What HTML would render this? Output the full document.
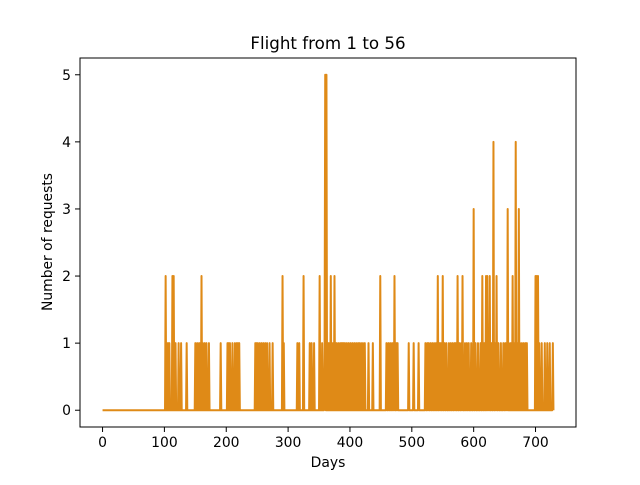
<!DOCTYPE html>
<html><head><meta charset="utf-8"><style>
body{margin:0;background:#fff;}
svg text{font-family:"DejaVu Sans","Liberation Sans",sans-serif;fill:#000;}
</style></head><body>
<svg width="640" height="480" viewBox="0 0 640 480">
<rect width="640" height="480" fill="#fff"/>
<text x="328" y="49" font-size="16.7" text-anchor="middle">Flight from 1 to 56</text>
<g id="plot"></g>
<rect x="80" y="58" width="496" height="369" fill="none" stroke="#000" stroke-width="1"/>
<g id="axes"></g>
<text x="328" y="467" font-size="13.9" text-anchor="middle">Days</text>
<text transform="translate(52,242) rotate(-90)" font-size="13.9" text-anchor="middle">Number of requests</text>
</svg>
<script>
const nDays = 730;
const eventDays = [102,104,106,108,113,115,118,123,127,136,150,153,156,158,160,162,165,168,172,191,202,204,206,210,214,217,219,221,247,249,251,254,257,260,263,266,270,275,291,293,315,318,325,335,338,342,351,355,359,360,362,365,367,369,371,373,375,378,381,384,386,388,390,392,395,398,401,404,407,410,413,415,418,421,424,430,437,449,459,462,465,468,470,472,475,477,495,503,511,522,525,527,530,533,536,539,542,545,547,550,553,556,560,563,566,569,571,574,577,580,582,586,589,592,596,600,603,607,611,614,617,620,622,624,626,629,632,635,637,640,644,648,651,653,655,657,660,663,666,668,670,673,675,678,681,684,686,700,702,704,706,710,715,719,723,728];
const eventValues = [2,1,1,1,2,2,1,1,1,1,1,1,1,1,2,1,1,1,1,1,1,1,1,1,1,1,1,1,1,1,1,1,1,1,1,1,1,1,2,1,1,1,2,1,1,1,2,1,1,5,5,1,1,2,1,1,2,1,1,1,1,1,1,1,1,1,1,1,1,1,1,1,1,1,1,1,1,2,1,1,1,1,1,2,1,1,1,1,1,1,1,1,1,1,1,1,2,1,1,2,1,1,1,1,1,1,1,2,1,1,2,1,1,1,1,3,1,1,1,2,1,2,2,1,2,1,4,1,2,1,1,1,1,1,3,1,1,2,1,4,1,3,1,1,1,1,1,2,2,2,1,1,1,1,1,1];
const xTicks = [0,100,200,300,400,500,600,700];
const yTicks = [0,1,2,3,4,5];
const X = d => 80 + (d + 36.45) / (729 * 1.1) * 496;
const Y = v => 427 - (v + 0.25) / 5.5 * 369;
const ns = 'http://www.w3.org/2000/svg';
const vals = new Array(nDays).fill(0);
eventDays.forEach((d,i)=>{ vals[d] = eventValues[i]; });
const pts = vals.map((v,d)=>X(d).toFixed(2)+','+Y(v).toFixed(2)).join(' ');
const line = document.createElementNS(ns,'polyline');


line.setAttribute('points', pts);
line.setAttribute('fill','none');
line.setAttribute('stroke','#df8a17');
line.setAttribute('stroke-width','2');
line.setAttribute('stroke-linejoin','round');
document.getElementById('plot').appendChild(line);
const axes = document.getElementById('axes');
xTicks.forEach(t=>{
  const l = document.createElementNS(ns,'line');
  
  
  l.setAttribute('x1',X(t));l.setAttribute('x2',X(t));l.setAttribute('y1',427);l.setAttribute('y2',432);l.setAttribute('stroke','#000');
  axes.appendChild(l);
  const tx = document.createElementNS(ns,'text');
  
  
  tx.setAttribute('x',X(t));tx.setAttribute('y',447);tx.setAttribute('font-size','13.9');tx.setAttribute('text-anchor','middle');
  tx.textContent = t;
  axes.appendChild(tx);
});
yTicks.forEach(t=>{
  const l = document.createElementNS(ns,'line');
  
  
  l.setAttribute('x1',75);l.setAttribute('x2',80);l.setAttribute('y1',Y(t));l.setAttribute('y2',Y(t));l.setAttribute('stroke','#000');
  axes.appendChild(l);
  const tx = document.createElementNS(ns,'text');
  
  
  tx.setAttribute('x',71);tx.setAttribute('y',Y(t)+5);tx.setAttribute('font-size','13.9');tx.setAttribute('text-anchor','end');
  tx.textContent = t;
  axes.appendChild(tx);
});
</script>
</body></html>
